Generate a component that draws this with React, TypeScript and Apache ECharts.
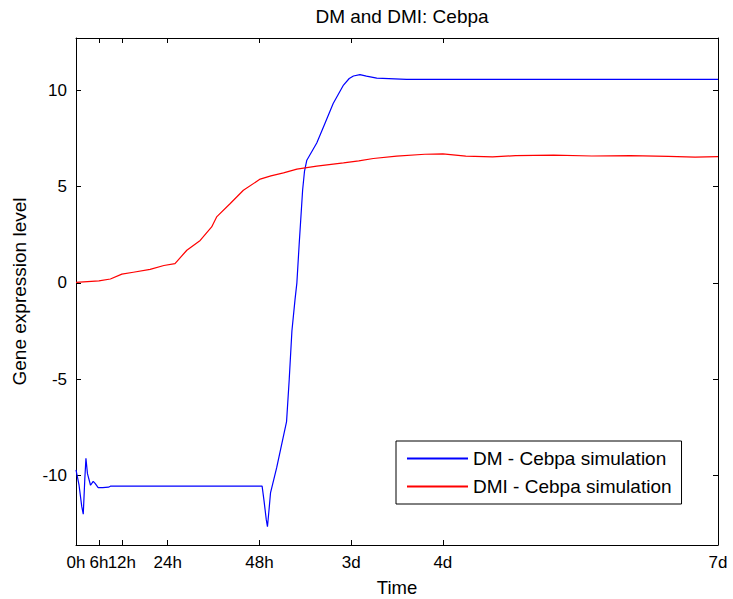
import React, { useEffect, useRef } from "react";
import * as echarts from "echarts";

const xTickValues = [0, 6, 12, 24, 48, 72, 96, 168];
const xTickLabels = ["0h", "6h", "12h", "24h", "48h", "3d", "4d", "7d"];
const yTickValues = [-10, -5, 0, 5, 10];

const dmTime = [0, 0.8, 1.5, 1.9, 2.3, 2.6, 3.0, 3.8, 4.5, 5.0, 5.8, 7, 8.5, 9, 48.7, 49.2, 49.8, 50.1, 50.5, 50.9, 52.5, 55.1, 55.8, 56.5, 57.3, 57.8, 58.4, 59.3, 59.8, 60.4, 63, 65, 67.3, 70, 71.5, 72.6, 74.3, 76, 78.7, 86.5, 168];
const dmValues = [-9.7, -10.5, -11.6, -12.0, -10.2, -9.1, -9.9, -10.5, -10.3, -10.4, -10.62, -10.62, -10.6, -10.55, -10.55, -11.3, -12.3, -12.65, -11.8, -10.9, -9.6, -7.2, -5, -2.5, -0.9, 0, 2, 4.8, 5.8, 6.36, 7.25, 8.2, 9.3, 10.26, 10.6, 10.73, 10.8, 10.72, 10.62, 10.55, 10.55];

const dmiTime = [0, 2, 4, 6, 9, 12, 15, 19.4, 23, 25.9, 29, 32.5, 35.5, 36.8, 40.3, 43.8, 48.2, 51, 54.3, 57.8, 63, 70, 74, 77.8, 83.9, 91.3, 96, 102, 109, 115, 125, 135, 145, 155, 162, 168];
const dmiValues = [0.02, 0.05, 0.08, 0.1, 0.2, 0.45, 0.55, 0.7, 0.9, 1.0, 1.69, 2.2, 2.9, 3.42, 4.1, 4.8, 5.38, 5.55, 5.7, 5.9, 6.05, 6.22, 6.33, 6.45, 6.57, 6.67, 6.69, 6.57, 6.53, 6.6, 6.62, 6.58, 6.6, 6.56, 6.52, 6.55];

const FONT = "'Liberation Sans', Arial, sans-serif";

export default function App() {
  const ref = useRef<HTMLDivElement>(null);
  useEffect(() => {
    if (!ref.current) return;
    const chart = echarts.init(ref.current, undefined, { renderer: "svg" });
    const axisLine = { show: true, onZero: false, lineStyle: { color: "#000", width: 1 } };
    const tick = { show: true, inside: true, length: 5, lineStyle: { color: "#000", width: 1 } };
    chart.setOption({
      animation: false,
      backgroundColor: "#fff",
      title: {
        text: "DM and DMI: Cebpa",
        left: 397,
        top: 2,
        textAlign: "center",
        textStyle: { fontFamily: FONT, fontSize: 19, fontWeight: "normal", color: "#000" },
      },
      grid: {
        left: 76,
        top: 38,
        width: 642,
        height: 507,
        show: false,
        containLabel: false,
        outerBoundsMode: "none",
      },
      legend: {
        orient: "vertical",
        left: 396,
        top: 441,
        padding: [8, 10, 8, 11],
        itemGap: 9,
        itemWidth: 61,
        itemHeight: 2,
        icon: "rect",
        borderColor: "#000",
        borderWidth: 1,
        borderRadius: 0,
        backgroundColor: "#fff",
        textStyle: { fontFamily: FONT, fontSize: 19, color: "#000", lineHeight: 19 },
        data: ["DM - Cebpa simulation", "DMI - Cebpa simulation"],
      },
      xAxis: [
        {
          type: "value",
          min: 0,
          max: 168,
          name: "Time",
          nameLocation: "middle",
          nameGap: 33,
          nameTextStyle: { fontFamily: FONT, fontSize: 18.5, color: "#000" },
          axisLine,
          axisTick: { ...tick, customValues: xTickValues },
          axisLabel: {
            customValues: xTickValues,
            formatter: (v: number) => xTickLabels[xTickValues.indexOf(v)] ?? "",
            fontFamily: FONT,
            fontSize: 17,
            color: "#000",
            margin: 9,
          },
          splitLine: { show: false },
        },
        {
          type: "value",
          position: "top",
          min: 0,
          max: 168,
          axisLine,
          axisTick: { ...tick, customValues: xTickValues },
          axisLabel: { show: false },
          splitLine: { show: false },
        },
      ],
      yAxis: [
        {
          type: "value",
          min: -13.6,
          max: 12.7,
          name: "Gene expression level",
          nameLocation: "middle",
          nameGap: 47,
          nameTextStyle: { fontFamily: FONT, fontSize: 19, color: "#000" },
          axisLine,
          axisTick: { ...tick, customValues: yTickValues },
          axisLabel: {
            customValues: yTickValues,
            fontFamily: FONT,
            fontSize: 17,
            color: "#000",
            margin: 9,
          },
          splitLine: { show: false },
        },
        {
          type: "value",
          position: "right",
          min: -13.6,
          max: 12.7,
          axisLine,
          axisTick: { ...tick, customValues: yTickValues },
          axisLabel: { show: false },
          splitLine: { show: false },
        },
      ],
      series: [
        {
          name: "DM - Cebpa simulation",
          type: "line",
          showSymbol: false,
          data: dmTime.map((t, i) => [t, dmValues[i]]),
          lineStyle: { color: "#0000ff", width: 1.2 },
          itemStyle: { color: "#0000ff" },
        },
        {
          name: "DMI - Cebpa simulation",
          type: "line",
          showSymbol: false,
          data: dmiTime.map((t, i) => [t, dmiValues[i]]),
          lineStyle: { color: "#ff0000", width: 1.2 },
          itemStyle: { color: "#ff0000" },
        },
      ],
    });
    return () => chart.dispose();
  }, []);
  return (
    <div
      ref={ref}
      style={{ position: "fixed", left: 0, top: 0, width: 733, height: 599, background: "#fff" }}
    />
  );
}
